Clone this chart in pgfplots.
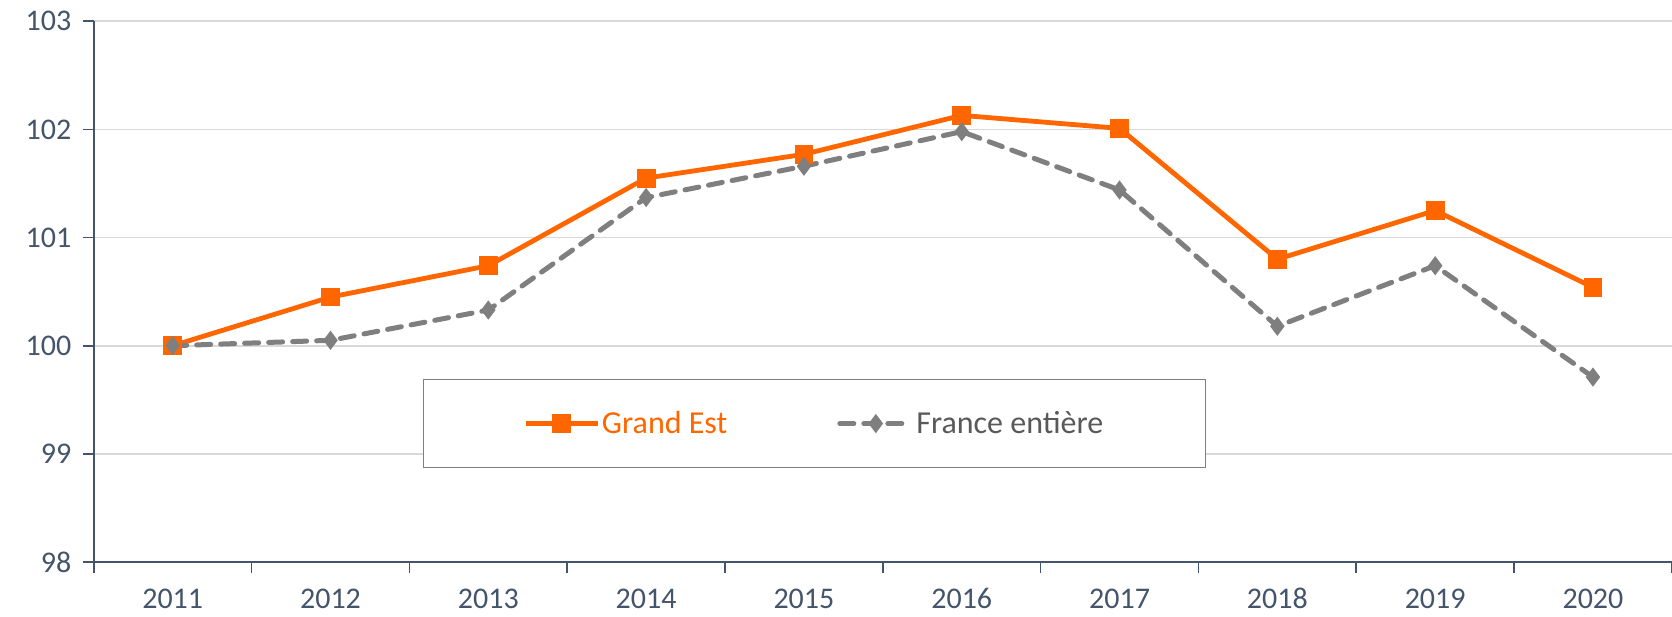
\documentclass[border=0pt]{standalone}
\usepackage{pgfplots}
\pgfplotsset{compat=1.18}
\usepackage{fontspec}
\setmainfont{Carlito}
\definecolor{ge}{HTML}{FF6600}
\definecolor{fr}{HTML}{7F7F7F}
\definecolor{frtext}{HTML}{595959}
\definecolor{axc}{HTML}{44546A}
\definecolor{gridc}{HTML}{D9D9D9}
\begin{document}
\begin{tikzpicture}
\useasboundingbox (0,0) rectangle (1672pt,616pt);
\begin{axis}[
  at={(93.8pt,54pt)}, anchor=south west,
  scale only axis, width=1578pt, height=540.7pt,
  xmin=-0.5, xmax=9.5, ymin=98, ymax=103,
  axis lines*=left,
  axis line style={draw=axc, line width=1.6pt},
  xtick={0,...,9},
  xticklabels={2011,2012,2013,2014,2015,2016,2017,2018,2019,2020},
  minor xtick={-0.5,0.5,...,9.5},
  x tick style={draw=none},
  minor x tick style={draw=axc, line width=1.6pt},
  minor tick length=11pt,
  ytick={98,99,...,103},
  y tick style={draw=axc, line width=1.6pt},
  major tick length=11pt,
  tick align=outside,
  ymajorgrids, grid style={draw=gridc, line width=1.6pt},
  tick label style={font=\fontsize{30}{36}\selectfont, text=axc},
  /pgf/number format/assume math mode=true,
  xticklabel style={anchor=base, inner ysep=0pt, yshift=-35pt},
  yticklabel style={xshift=-8pt},
  legend columns=2,
  legend cell align=left,
  legend style={
    at={(0.4565,0.256)}, anchor=center,
    draw=fr, line width=1.2pt,
    font=\fontsize{32}{38}\selectfont,
    inner xsep=100pt, inner ysep=30pt,
    /tikz/every even column/.append style={column sep=108pt},
  },
  legend image code/.code={
    \draw[mark repeat=2, mark phase=2, #1] plot coordinates {(0pt,0pt) (36pt,0pt) (72pt,0pt)};
  },
]
\addplot[color=ge, line width=4.8pt, mark=square*, mark size=7pt, mark options={solid}]
 coordinates {(0,100) (1,100.45) (2,100.74) (3,101.55) (4,101.77) (5,102.13) (6,102.01) (7,100.80) (8,101.25) (9,100.54)};
\addlegendentry[text=ge]{Grand Est}
\addplot[color=fr, line width=5pt, dash pattern=on 14pt off 10pt, line cap=round, mark=diamond*, mark size=5.5pt, mark options={solid}]
 coordinates {(0,100) (1,100.05) (2,100.33) (3,101.37) (4,101.66) (5,101.98) (6,101.44) (7,100.18) (8,100.74) (9,99.71)};
\addlegendentry[text=frtext]{France entière}
\end{axis}
\end{tikzpicture}
\end{document}
